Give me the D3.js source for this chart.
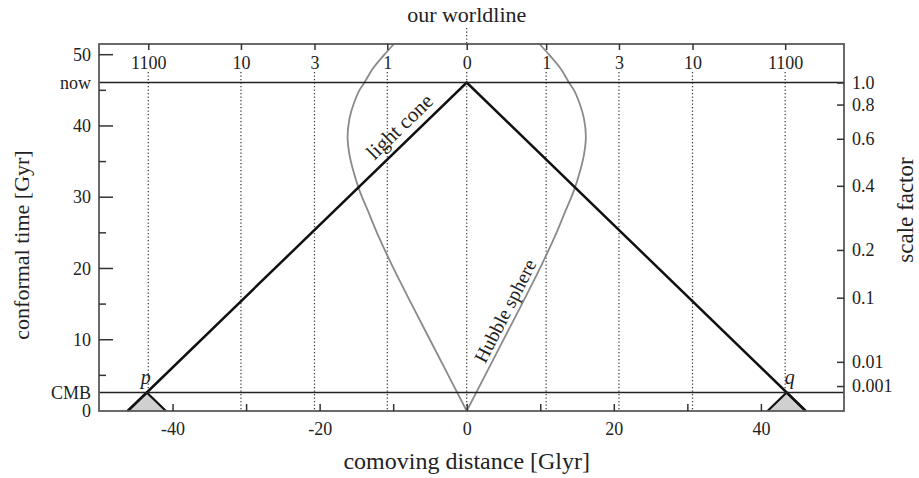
<!DOCTYPE html>
<html>
<head>
<meta charset="utf-8">
<script src="https://cdn.jsdelivr.net/npm/d3@7"></script>
<style>
body { margin: 0; background: #fff; }
svg text { font-family: "Liberation Serif", serif; fill: #222; }
</style>
</head>
<body>
<svg width="919" height="478"></svg>
<script>
var tNow = 46.1;
var tCMB = 2.6;
var distTicks = [-40, -30, -20, -10, 0, 10, 20, 30, 40];
var distLabels = [-40, -20, 0, 20, 40];
var timeMajor = [10, 20, 30, 40, 50];
var timeMinor = [5, 15, 25, 35, 45];
var leftLabels = ["0", "CMB", "10", "20", "30", "40", "now", "50"];
var leftLabelTimes = [0, tCMB, 10, 20, 30, 40, tNow, 50];
var redshiftLabels = ["1100", "10", "3", "1", "0", "1", "3", "10", "1100"];
var redshiftDist = [-43.3, -30.7, -20.7, -10.8, 0, 10.8, 20.7, 30.7, 43.3];
var scaleLabels = ["1.0", "0.8", "0.6", "0.4", "0.2", "0.1", "0.01", "0.001"];
var scaleTimes = [46.1, 43.0, 38.2, 31.6, 22.6, 15.9, 6.9, 3.5];
// half width of the hubble sphere (Glyr) at each conformal time
var hubbleT = [0, 5, 10, 15, 20, 25, 28, 31, 34, 36, 38.5, 41, 43, 45, 46.1, 48, 50, 51.5];
var hubbleX = [0, 2.5, 5, 7.5, 9.95, 12.2, 13.4, 14.6, 15.5, 15.95, 16.2, 15.95, 15.4, 14.6, 13.9, 12.8, 11.2, 9.9];

function init() {
  var pl = 99, pr = 844, pt = 44, pb = 411;
  var x = d3.scaleLinear().domain([-50, 51.3]).range([pl, pr]);
  var y = d3.scaleLinear().domain([0, 51.5]).range([pb, pt]);
  var svg = d3.select("svg");

  // dotted redshift lines
  svg.append("g").selectAll("line").data(redshiftDist).enter().append("line")
    .attr("x1", d => x(d)).attr("x2", d => x(d))
    .attr("y1", 72).attr("y2", pb)
    .attr("stroke", "#333").attr("stroke-width", 1.2).attr("stroke-dasharray", "1.3,2.2");
  svg.append("line")
    .attr("x1", x(0)).attr("x2", x(0)).attr("y1", 28).attr("y2", pt)
    .attr("stroke", "#333").attr("stroke-width", 1.2).attr("stroke-dasharray", "1.3,2.2");

  // hubble sphere
  var hubbleLine = d3.line().x(d => x(d[0])).y(d => y(d[1])).curve(d3.curveCatmullRom);
  [1, -1].forEach(function(s) {
    svg.append("path")
      .attr("d", hubbleLine(hubbleT.map((t, i) => [s * hubbleX[i], t])))
      .attr("fill", "none").attr("stroke", "#8a8a8a").attr("stroke-width", 1.8);
  });

  // past light cones of p and q
  var pX = -(tNow - tCMB);
  [pX, -pX].forEach(function(c) {
    svg.append("path")
      .attr("d", d3.line()([[x(c - tCMB), y(0)], [x(c), y(tCMB)], [x(c + tCMB), y(0)]]))
      .attr("fill", "#d0d0d0").attr("stroke", "#111").attr("stroke-width", 2.2);
  });

  // our light cone
  svg.append("path")
    .attr("d", d3.line()([[x(-tNow), y(0)], [x(0), y(tNow)], [x(tNow), y(0)]]))
    .attr("fill", "none").attr("stroke", "#111").attr("stroke-width", 2.5);

  // now and CMB
  svg.append("g").selectAll("line").data([tNow, tCMB]).enter().append("line")
    .attr("x1", pl).attr("x2", pr)
    .attr("y1", d => y(d)).attr("y2", d => y(d))
    .attr("stroke", "#222").attr("stroke-width", 1.6);

  // frame
  svg.append("rect")
    .attr("x", pl).attr("y", pt).attr("width", pr - pl).attr("height", pb - pt)
    .attr("fill", "none").attr("stroke", "#5a5a5a").attr("stroke-width", 1.8);

  // bottom axis
  svg.append("g")
    .attr("transform", "translate(0," + pb + ")")
    .call(d3.axisBottom(x).tickValues(distTicks).tickSize(-7).tickPadding(11)
      .tickFormat(d => distLabels.includes(d) ? String(d) : ""))
    .call(g => g.select(".domain").remove());

  // top axis (redshift)
  svg.append("g")
    .attr("transform", "translate(0," + pt + ")")
    .call(d3.axisBottom(x).tickValues(redshiftDist).tickSize(6).tickPadding(6)
      .tickFormat((d, i) => redshiftLabels[i]))
    .call(g => g.select(".domain").remove());

  // left axis
  svg.append("g")
    .attr("transform", "translate(" + pl + ",0)")
    .call(d3.axisLeft(y).tickValues(leftLabelTimes).tickSize(0).tickPadding(8)
      .tickFormat((d, i) => leftLabels[i]))
    .call(g => g.select(".domain").remove());
  svg.append("g").selectAll("line").data(timeMajor.concat(timeMinor)).enter().append("line")
    .attr("x1", pl).attr("x2", d => pl + (timeMajor.includes(d) ? 14 : 7))
    .attr("y1", d => y(d)).attr("y2", d => y(d))
    .attr("stroke", "#333").attr("stroke-width", 1.5);

  // right axis (scale factor)
  svg.append("g")
    .attr("transform", "translate(" + pr + ",0)")
    .call(d3.axisRight(y).tickValues(scaleTimes).tickSize(-7).tickPadding(8)
      .tickFormat((d, i) => scaleLabels[i]))
    .call(g => g.select(".domain").remove());

  svg.selectAll(".tick text").attr("font-size", 18).attr("font-family", "Liberation Serif").attr("fill", "#222");
  svg.selectAll(".tick line").attr("stroke", "#333").attr("stroke-width", 1.5);

  // titles
  svg.append("text").attr("x", x(0)).attr("y", 22).attr("text-anchor", "middle")
    .attr("font-size", 22).text("our worldline");
  svg.append("text").attr("x", x(0)).attr("y", 469).attr("text-anchor", "middle")
    .attr("font-size", 24).text("comoving distance [Glyr]");
  svg.append("text").attr("transform", "translate(29,245) rotate(-90)").attr("text-anchor", "middle")
    .attr("font-size", 22).text("conformal time [Gyr]");
  svg.append("text").attr("transform", "translate(913,210) rotate(-90)").attr("text-anchor", "middle")
    .attr("font-size", 23).text("scale factor");

  // curve labels
  var coneAngle = Math.atan2(y(tNow) - y(0), x(0) - x(-tNow)) * 180 / Math.PI;
  svg.append("text")
    .attr("transform", "translate(" + x(-7.7) + "," + y(tNow - 7.7) + ") rotate(" + coneAngle + ")")
    .attr("y", -8).attr("text-anchor", "middle").attr("font-size", 21).text("light cone");
  var hubAngle = Math.atan2(y(20) - y(5), x(9.95) - x(2.5)) * 180 / Math.PI;
  svg.append("text")
    .attr("transform", "translate(" + x(6.65) + "," + y(13.3) + ") rotate(" + hubAngle + ")")
    .attr("y", -5).attr("text-anchor", "middle").attr("font-size", 19.5).text("Hubble sphere");
  svg.append("text").attr("x", x(pX) - 1).attr("y", 384).attr("text-anchor", "middle")
    .attr("font-size", 20).attr("font-style", "italic").text("p");
  svg.append("text").attr("x", x(-pX) + 3).attr("y", 384).attr("text-anchor", "middle")
    .attr("font-size", 20).attr("font-style", "italic").text("q");
}
init();
</script>
</body>
</html>
